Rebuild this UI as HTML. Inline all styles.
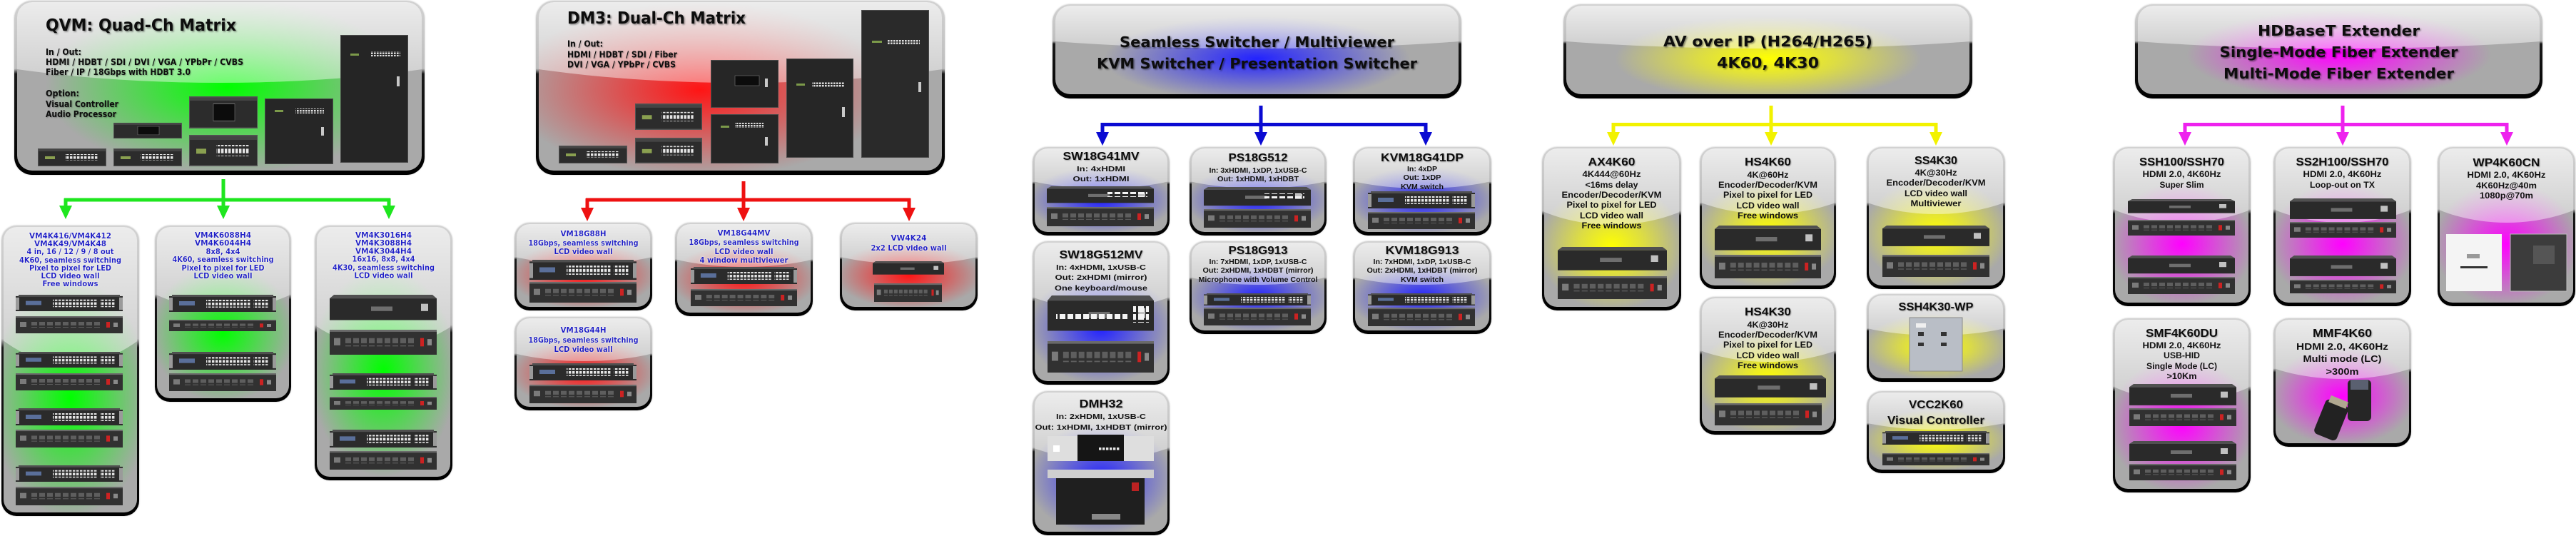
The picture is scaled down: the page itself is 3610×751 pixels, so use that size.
<!DOCTYPE html>
<html><head><meta charset="utf-8">
<style>
html,body{margin:0;padding:0;background:#fff}
body{width:3610px;height:751px;position:relative;overflow:hidden}
.b{position:absolute;border-radius:21px;background:linear-gradient(#d2d2d2,#bdbdbd 39%,#1a1a1a 42%,#000);box-shadow:0 0 2px rgba(0,0,0,.25)}
.b>div{position:absolute;left:3px;right:3px;top:2px;bottom:5px;border-radius:18px;overflow:hidden;background:#a9a9a9}
.L{border-radius:25px}
.L>div{left:4px;right:4px;top:2px;bottom:6px;border-radius:21px}
.b>div:before{content:"";position:absolute;left:0;top:0;right:0;bottom:0;background:radial-gradient(var(--w,55%) var(--h,40%) at var(--x,50%) var(--y,62%),var(--c) 0%,var(--d) 45%,rgba(169,169,169,0) 100%)}
.b>div:after{content:"";position:absolute;left:-50%;width:200%;top:-72%;height:120%;border-radius:50%;background:linear-gradient(rgba(255,255,255,.85),rgba(255,255,255,.78) 60%,rgba(255,255,255,.42))}
.g{--c:#00ff00;--d:rgba(0,255,0,.55)}
.r{--c:#ff1414;--d:rgba(255,20,20,.55)}
.u{--c:#2222ff;--d:rgba(34,34,255,.55)}
.y{--c:#ffff00;--d:rgba(255,255,0,.6)}
.m{--c:#ff00ff;--d:rgba(255,0,255,.55)}
svg{position:absolute;left:0;top:0}
</style></head>
<body>
<!-- top boxes -->
<div class="b L g" style="left:20px;top:1px;width:575px;height:244px;--x:52%;--y:50%;--w:45%;--h:52%"><div></div></div>
<div class="b L r" style="left:751px;top:1px;width:573px;height:244px;--x:40%;--y:52%;--w:48%;--h:52%"><div></div></div>
<div class="b L u" style="left:1475px;top:6px;width:573px;height:132px;--y:60%;--w:38%;--h:48%"><div></div></div>
<div class="b L y" style="left:2191px;top:6px;width:573px;height:132px;--y:60%;--w:38%;--h:48%"><div></div></div>
<div class="b L m" style="left:2992px;top:6px;width:571px;height:132px;--y:55%;--w:38%;--h:50%"><div></div></div>
<!-- green children -->
<div class="b g" style="left:2px;top:316px;width:193px;height:407px;--y:60%;--w:60%;--h:42%"><div></div></div>
<div class="b g" style="left:217px;top:316px;width:191px;height:247px"><div></div></div>
<div class="b g" style="left:441px;top:316px;width:193px;height:357px;--y:58%;--h:42%"><div></div></div>
<!-- red children -->
<div class="b r" style="left:721px;top:312px;width:193px;height:123px"><div></div></div>
<div class="b r" style="left:946px;top:312px;width:193px;height:131px"><div></div></div>
<div class="b r" style="left:1177px;top:312px;width:193px;height:123px"><div></div></div>
<div class="b r" style="left:721px;top:444px;width:193px;height:131px"><div></div></div>
<!-- blue children -->
<div class="b u" style="left:1447px;top:206px;width:192px;height:124px"><div></div></div>
<div class="b u" style="left:1667px;top:206px;width:192px;height:124px"><div></div></div>
<div class="b u" style="left:1896px;top:206px;width:194px;height:124px"><div></div></div>
<div class="b u" style="left:1447px;top:338px;width:192px;height:201px"><div></div></div>
<div class="b u" style="left:1667px;top:338px;width:192px;height:130px"><div></div></div>
<div class="b u" style="left:1896px;top:338px;width:194px;height:130px"><div></div></div>
<div class="b u" style="left:1447px;top:548px;width:192px;height:202px"><div></div></div>
<!-- yellow children -->
<div class="b y" style="left:2161px;top:206px;width:195px;height:229px"><div></div></div>
<div class="b y" style="left:2382px;top:206px;width:191px;height:199px"><div></div></div>
<div class="b y" style="left:2616px;top:206px;width:194px;height:199px"><div></div></div>
<div class="b y" style="left:2382px;top:416px;width:191px;height:193px"><div></div></div>
<div class="b y" style="left:2616px;top:412px;width:194px;height:123px"><div></div></div>
<div class="b y" style="left:2616px;top:548px;width:194px;height:115px"><div></div></div>
<!-- magenta children -->
<div class="b m" style="left:2961px;top:206px;width:193px;height:223px"><div></div></div>
<div class="b m" style="left:3186px;top:206px;width:193px;height:223px"><div></div></div>
<div class="b m" style="left:3416px;top:206px;width:193px;height:223px"><div></div></div>
<div class="b m" style="left:2961px;top:446px;width:193px;height:244px"><div></div></div>
<div class="b m" style="left:3186px;top:446px;width:193px;height:180px"><div></div></div>

<svg width="3610" height="751" viewBox="0 0 3610 751" xmlns="http://www.w3.org/2000/svg">
<defs>
<filter id="ts" x="-5%" y="-30%" width="115%" height="170%"><feDropShadow dx="1.5" dy="1.5" stdDeviation="1" flood-color="#000" flood-opacity=".45"/></filter>
<filter id="ts2" x="-5%" y="-30%" width="115%" height="170%"><feDropShadow dx="1" dy="1" stdDeviation=".8" flood-color="#000" flood-opacity=".3"/></filter>
<filter id="wg" x="-10%" y="-40%" width="120%" height="180%"><feDropShadow dx="0" dy="0" stdDeviation="1" flood-color="#fff" flood-opacity="1"/></filter>
<pattern id="bt" width="5" height="5.5" patternUnits="userSpaceOnUse"><rect width="3.4" height="3.6" fill="#e6e6e6"/></pattern>
<pattern id="pt" width="11" height="7" patternUnits="userSpaceOnUse"><rect y="1" width="8" height="5" fill="#5e5e5e"/></pattern>
<pattern id="bg" width="4" height="3.5" patternUnits="userSpaceOnUse"><rect width="2.6" height="2.4" fill="#e0e0e0"/></pattern>
<pattern id="wk" width="11" height="11" patternUnits="userSpaceOnUse"><rect width="8" height="8" fill="#f4f4f4"/></pattern>
<symbol id="fr" viewBox="0 0 150 24" preserveAspectRatio="none">
<rect x="0" y="2" width="150" height="22" fill="#2b2b2b"/>
<rect x="4" y="0" width="142" height="3" fill="#4f4f4f"/>
<rect x="0" y="4" width="5" height="18" fill="#9a9a9a"/>
<rect x="145" y="4" width="5" height="18" fill="#9a9a9a"/>
<rect x="14" y="9" width="22" height="6" fill="#5a6f9a"/>
<rect x="52" y="7" width="62" height="11" fill="url(#bt)"/>
<rect x="118" y="7" width="22" height="11" fill="url(#bt)"/>
</symbol>
<symbol id="rr" viewBox="0 0 150 24" preserveAspectRatio="none">
<rect width="150" height="24" fill="#313131"/>
<rect width="150" height="2" fill="#6a6a6a"/>
<rect x="6" y="8" width="9" height="7" fill="#7a7a7a"/>
<rect x="20" y="8" width="100" height="8" fill="url(#pt)"/>
<rect x="127" y="8" width="5" height="8" fill="#cc2222"/>
<rect x="137" y="9" width="6" height="6" fill="#8a8a8a"/>
</symbol>
<symbol id="bx" viewBox="0 0 150 30" preserveAspectRatio="none">
<rect y="4" width="150" height="24" fill="#2a2a2a"/>
<polygon points="6,0 144,0 150,4 0,4" fill="#505050"/>
<rect x="58" y="13" width="30" height="5" fill="#6e6e6e"/>
<rect x="128" y="10" width="10" height="8" fill="#c0c0c0"/>
</symbol>
<symbol id="ch" viewBox="0 0 96 25" preserveAspectRatio="none">
<rect x=".5" y=".5" width="95" height="24" fill="#2c2c2c" stroke="#555"/>
<rect x="1" y="1" width="94" height="3" fill="#444"/>
<rect x="10" y="11" width="14" height="4" fill="#8aa050"/>
<rect x="38" y="8" width="46" height="9" fill="url(#bt)"/>
</symbol>
<symbol id="cd" viewBox="0 0 96 30" preserveAspectRatio="none">
<rect x=".5" y=".5" width="95" height="29" fill="#2c2c2c" stroke="#555"/>
<rect x="1" y="1" width="94" height="3" fill="#444"/>
<rect x="34" y="7" width="30" height="16" fill="#0c0c0c" stroke="#777" stroke-width=".6"/>
</symbol>
</defs>

<!-- ===== connectors ===== -->
<g fill="none" stroke-width="5">
<path d="M313 251V280M90 280H547M92 278V292M545 278V292M313 278V292" stroke="#1ee61e"/>
<path d="M1042 254V280M821 280H1276M823 278V293M1274 278V293M1042 278V293" stroke="#ee1111"/>
<path d="M1767 148V175M1543 174.5H2000M1545 172V187M1998 172V187M1767 172V187" stroke="#0a0ad2"/>
<path d="M2482 148V175M2259 174.5H2715M2261 172V187M2713 172V187M2482 172V187" stroke="#f2f200"/>
<path d="M3283 148V175M3060 174.5H3515M3062 172V187M3513 172V187M3283 172V187" stroke="#ee22ee"/>
</g>
<g fill="#1ee61e"><polygon points="83,288 101,288 92,307"/><polygon points="304,288 322,288 313,307"/><polygon points="536,288 554,288 545,307"/></g>
<g fill="#ee1111"><polygon points="814,291 832,291 823,310"/><polygon points="1033,291 1051,291 1042,310"/><polygon points="1265,291 1283,291 1274,310"/></g>
<g fill="#0a0ad2"><polygon points="1536,185 1554,185 1545,204"/><polygon points="1758,185 1776,185 1767,204"/><polygon points="1989,185 2007,185 1998,204"/></g>
<g fill="#f2f200"><polygon points="2252,185 2270,185 2261,204"/><polygon points="2473,185 2491,185 2482,204"/><polygon points="2704,185 2722,185 2713,204"/></g>
<g fill="#ee22ee"><polygon points="3053,185 3071,185 3062,204"/><polygon points="3274,185 3292,185 3283,204"/><polygon points="3504,185 3522,185 3513,204"/></g>

<!-- ===== devices: QVM ===== -->
<use href="#ch" x="53" y="208" width="96" height="25"/>
<use href="#cd" x="159" y="172" width="96" height="22"/>
<use href="#ch" x="159" y="208" width="96" height="25"/>
<use href="#cd" x="265" y="135" width="96" height="45"/>
<use href="#ch" x="265" y="189" width="96" height="44"/>
<rect x="371.5" y="138.5" width="95" height="91" fill="#262626" stroke="#4a4a4a"/>
<rect x="385" y="154" width="12" height="3" fill="#7c9a4a"/><rect x="414" y="152" width="40" height="7" fill="url(#bg)"/><rect x="450" y="178" width="4" height="12" fill="#c8c8c8"/>
<rect x="477.5" y="49.5" width="94" height="178" fill="#252525" stroke="#4a4a4a"/>
<rect x="491" y="75" width="12" height="3" fill="#7c9a4a"/><rect x="519" y="72" width="42" height="7" fill="url(#bg)"/><rect x="556" y="107" width="4" height="14" fill="#c8c8c8"/>
<!-- DM3 -->
<use href="#ch" x="783" y="204" width="96" height="25"/>
<use href="#ch" x="890" y="145" width="94" height="37"/>
<use href="#ch" x="890" y="193" width="94" height="36"/>
<rect x="996.5" y="84.5" width="94" height="66" fill="#262626" stroke="#4a4a4a"/>
<rect x="1030" y="106" width="34" height="14" fill="#0c0c0c" stroke="#777" stroke-width=".6"/><rect x="1072" y="110" width="4" height="12" fill="#c8c8c8"/>
<rect x="996.5" y="160.5" width="94" height="68" fill="#262626" stroke="#4a4a4a"/>
<rect x="1010" y="176" width="12" height="3" fill="#7c9a4a"/><rect x="1030" y="172" width="40" height="7" fill="url(#bg)"/><rect x="1072" y="192" width="4" height="12" fill="#c8c8c8"/>
<rect x="1102.5" y="82.5" width="93" height="138" fill="#262626" stroke="#4a4a4a"/>
<rect x="1116" y="117" width="12" height="3" fill="#7c9a4a"/><rect x="1138" y="115" width="45" height="7" fill="url(#bg)"/><rect x="1180" y="150" width="4" height="14" fill="#c8c8c8"/>
<rect x="1207.5" y="14.5" width="94" height="206" fill="#2a2a2a" stroke="#4a4a4a"/>
<rect x="1222" y="57" width="14" height="3" fill="#7c9a4a"/><rect x="1244" y="55" width="45" height="7" fill="url(#bg)"/><rect x="1287" y="115" width="4" height="14" fill="#c8c8c8"/>
<!-- green children -->
<use href="#fr" x="22" y="413" width="150" height="23"/><use href="#rr" x="22" y="443" width="150" height="24"/>
<use href="#fr" x="22" y="493" width="150" height="22"/><use href="#rr" x="22" y="523" width="150" height="24"/>
<use href="#fr" x="22" y="572" width="150" height="24"/><use href="#rr" x="22" y="602" width="150" height="25"/>
<use href="#fr" x="22" y="652" width="150" height="23"/><use href="#rr" x="22" y="682" width="150" height="26"/>
<use href="#fr" x="237" y="413" width="150" height="24"/><use href="#rr" x="237" y="448" width="150" height="16"/>
<use href="#fr" x="237" y="493" width="150" height="25"/><use href="#rr" x="237" y="523" width="150" height="25"/>
<use href="#bx" x="462" y="413" width="150" height="38"/><use href="#rr" x="462" y="462" width="150" height="35"/>
<use href="#fr" x="462" y="523" width="150" height="23"/><use href="#rr" x="462" y="556" width="150" height="18"/>
<use href="#fr" x="462" y="602" width="150" height="25"/><use href="#rr" x="462" y="632" width="150" height="26"/>
<!-- red children -->
<use href="#fr" x="742" y="364" width="150" height="28"/><use href="#rr" x="742" y="395" width="150" height="29"/>
<use href="#fr" x="968" y="374" width="149" height="24"/><use href="#rr" x="968" y="405" width="149" height="24"/>
<use href="#bx" x="1223" y="366" width="100" height="20"/><use href="#rr" x="1225" y="397" width="95" height="26"/>
<use href="#fr" x="742" y="509" width="150" height="24"/><use href="#rr" x="742" y="539" width="150" height="26"/>
<!-- blue children -->
<use href="#bx" x="1467" y="261" width="150" height="25"/><use href="#rr" x="1467" y="290" width="150" height="27"/>
<rect x="1552" y="269" width="56" height="7" fill="url(#wk)"/>
<use href="#bx" x="1687" y="262" width="150" height="28"/><use href="#rr" x="1687" y="293" width="150" height="26"/>
<rect x="1772" y="271" width="56" height="7" fill="url(#wk)"/>
<use href="#fr" x="1917" y="268" width="150" height="24"/><use href="#rr" x="1917" y="297" width="150" height="24"/>
<use href="#bx" x="1468" y="414" width="149" height="53"/><use href="#rr" x="1468" y="478" width="149" height="44"/>
<rect x="1480" y="438" width="100" height="9" fill="url(#wk)"/><rect x="1588" y="428" width="22" height="24" fill="url(#wk)"/>
<use href="#fr" x="1687" y="411" width="150" height="17"/><use href="#rr" x="1687" y="431" width="150" height="25"/>
<use href="#fr" x="1917" y="411" width="150" height="17"/><use href="#rr" x="1917" y="431" width="150" height="26"/>
<rect x="1468" y="611" width="149" height="35" fill="#dedede"/><rect x="1510" y="609" width="65" height="37" fill="#151515"/>
<rect x="1476" y="624" width="9" height="9" fill="#fff"/><rect x="1540" y="627" width="30" height="5" fill="url(#bt)"/>
<rect x="1468" y="658" width="149" height="12" fill="#cfcfcf"/>
<rect x="1480" y="670" width="124" height="65" fill="#1f1f1f"/>
<rect x="1586" y="676" width="10" height="12" fill="#b22"/><rect x="1530" y="720" width="40" height="8" fill="#888"/>
<!-- yellow children -->
<use href="#bx" x="2183" y="346" width="153" height="35"/><use href="#rr" x="2183" y="387" width="153" height="32"/>
<use href="#bx" x="2403" y="316" width="149" height="37"/><use href="#rr" x="2403" y="357" width="149" height="33"/>
<use href="#bx" x="2638" y="316" width="150" height="31"/><use href="#rr" x="2638" y="357" width="150" height="31"/>
<use href="#bx" x="2403" y="526" width="156" height="33"/><use href="#rr" x="2403" y="565" width="150" height="31"/>
<rect x="2676" y="445" width="74" height="75" fill="#b9bec6" stroke="#8a8a8a"/>
<rect x="2685" y="453" width="14" height="6" fill="#f0f0f0"/><rect x="2688" y="465" width="8" height="6" fill="#333"/><rect x="2720" y="465" width="8" height="6" fill="#333"/>
<rect x="2688" y="480" width="8" height="5" fill="#333"/><rect x="2720" y="480" width="8" height="5" fill="#333"/>
<use href="#fr" x="2638" y="604" width="150" height="19"/><use href="#rr" x="2638" y="635" width="150" height="17"/>
<!-- magenta children -->
<use href="#bx" x="2982" y="279" width="150" height="21"/><use href="#rr" x="2982" y="308" width="150" height="22"/>
<use href="#bx" x="2982" y="358" width="150" height="27"/><use href="#rr" x="2982" y="388" width="150" height="24"/>
<use href="#bx" x="3209" y="278" width="149" height="31"/><use href="#rr" x="3209" y="311" width="149" height="22"/>
<use href="#bx" x="3209" y="358" width="149" height="31"/><use href="#rr" x="3209" y="392" width="149" height="19"/>
<rect x="3428" y="328" width="78" height="80" fill="#f4f4f4"/>
<rect x="3457" y="356" width="18" height="6" fill="#999"/><rect x="3448" y="373" width="38" height="3" fill="#333"/>
<rect x="3518" y="328" width="79" height="80" fill="#3c3c3c" stroke="#bbb"/>
<rect x="3550" y="344" width="30" height="26" fill="#555"/>
<use href="#bx" x="2984" y="538" width="150" height="32"/><use href="#rr" x="2984" y="572" width="150" height="25"/>
<use href="#bx" x="2984" y="618" width="150" height="30"/><use href="#rr" x="2984" y="650" width="150" height="23"/>
<rect x="3290" y="532" width="33" height="58" rx="6" fill="#262626"/><rect x="3294" y="532" width="25" height="14" fill="#5a6070"/>
<g transform="rotate(22 3266 588)"><rect x="3250" y="562" width="34" height="52" rx="6" fill="#222"/><rect x="3254" y="556" width="26" height="10" fill="#b0a890"/></g>

<!-- ===== top box text ===== -->
<g font-family="'DejaVu Sans',sans-serif" font-weight="bold" fill="#111" filter="url(#ts)">
<text x="64" y="43" font-size="23" textLength="267" lengthAdjust="spacingAndGlyphs">QVM: Quad-Ch Matrix</text>
<text x="795" y="33" font-size="23" textLength="250" lengthAdjust="spacingAndGlyphs">DM3: Dual-Ch Matrix</text>
</g>
<g font-family="'DejaVu Sans',sans-serif" font-weight="bold" fill="#111" font-size="12.5" filter="url(#ts2)">
<text x="64" y="77" textLength="50" lengthAdjust="spacingAndGlyphs">In / Out:</text>
<text x="64" y="91" textLength="277" lengthAdjust="spacingAndGlyphs">HDMI / HDBT / SDI / DVI / VGA / YPbPr / CVBS</text>
<text x="64" y="105" textLength="203" lengthAdjust="spacingAndGlyphs">Fiber / IP / 18Gbps with HDBT 3.0</text>
<text x="64" y="135" textLength="47" lengthAdjust="spacingAndGlyphs">Option:</text>
<text x="64" y="150" textLength="102" lengthAdjust="spacingAndGlyphs">Visual Controller</text>
<text x="64" y="164" textLength="99" lengthAdjust="spacingAndGlyphs">Audio Processor</text>
<text x="795" y="65.5" textLength="50" lengthAdjust="spacingAndGlyphs">In / Out:</text>
<text x="795" y="80.5" textLength="154" lengthAdjust="spacingAndGlyphs">HDMI / HDBT / SDI / Fiber</text>
<text x="795" y="94.5" textLength="152" lengthAdjust="spacingAndGlyphs">DVI / VGA / YPbPr / CVBS</text>
</g>
<g font-family="'DejaVu Sans',sans-serif" font-weight="bold" fill="#111" font-size="20" text-anchor="middle" filter="url(#ts)">
<text x="1761.5" y="66" textLength="385" lengthAdjust="spacingAndGlyphs">Seamless Switcher / Multiviewer</text>
<text x="1761.5" y="96" textLength="449" lengthAdjust="spacingAndGlyphs">KVM Switcher / Presentation Switcher</text>
<text x="2477.5" y="65" textLength="293" lengthAdjust="spacingAndGlyphs">AV over IP (H264/H265)</text>
<text x="2477.5" y="95" textLength="143" lengthAdjust="spacingAndGlyphs">4K60, 4K30</text>
<text x="3277.5" y="50" textLength="227" lengthAdjust="spacingAndGlyphs">HDBaseT Extender</text>
<text x="3277.5" y="80" textLength="334" lengthAdjust="spacingAndGlyphs">Single-Mode Fiber Extender</text>
<text x="3277.5" y="110" textLength="323" lengthAdjust="spacingAndGlyphs">Multi-Mode Fiber Extender</text>
</g>

<!-- ===== green/red child text (blue) ===== -->
<g font-family="'DejaVu Sans',sans-serif" font-weight="bold" fill="#1c1cc8" font-size="10.5" text-anchor="middle" filter="url(#wg)">
<text x="98.5" y="334" textLength="115" lengthAdjust="spacingAndGlyphs">VM4K416/VM4K412</text>
<text x="98.5" y="345" textLength="101" lengthAdjust="spacingAndGlyphs">VM4K49/VM4K48</text>
<text x="98.5" y="356" textLength="122" lengthAdjust="spacingAndGlyphs">4 in, 16 / 12 / 9 / 8 out</text>
<text x="98.5" y="368" textLength="143" lengthAdjust="spacingAndGlyphs">4K60, seamless switching</text>
<text x="98.5" y="379" textLength="115" lengthAdjust="spacingAndGlyphs">Pixel to pixel for LED</text>
<text x="98.5" y="390" textLength="82" lengthAdjust="spacingAndGlyphs">LCD video wall</text>
<text x="98.5" y="401" textLength="78" lengthAdjust="spacingAndGlyphs">Free windows</text>
<text x="312.5" y="333" textLength="79" lengthAdjust="spacingAndGlyphs">VM4K6088H4</text>
<text x="312.5" y="344" textLength="79" lengthAdjust="spacingAndGlyphs">VM4K6044H4</text>
<text x="312.5" y="356" textLength="48" lengthAdjust="spacingAndGlyphs">8x8, 4x4</text>
<text x="312.5" y="367" textLength="142" lengthAdjust="spacingAndGlyphs">4K60, seamless switching</text>
<text x="312.5" y="379" textLength="116" lengthAdjust="spacingAndGlyphs">Pixel to pixel for LED</text>
<text x="312.5" y="390" textLength="82" lengthAdjust="spacingAndGlyphs">LCD video wall</text>
<text x="537.5" y="333" textLength="79" lengthAdjust="spacingAndGlyphs">VM4K3016H4</text>
<text x="537.5" y="344" textLength="79" lengthAdjust="spacingAndGlyphs">VM4K3088H4</text>
<text x="537.5" y="355.5" textLength="79" lengthAdjust="spacingAndGlyphs">VM4K3044H4</text>
<text x="537.5" y="366.5" textLength="88" lengthAdjust="spacingAndGlyphs">16x16, 8x8, 4x4</text>
<text x="537.5" y="378.5" textLength="143" lengthAdjust="spacingAndGlyphs">4K30, seamless switching</text>
<text x="537.5" y="389.5" textLength="82" lengthAdjust="spacingAndGlyphs">LCD video wall</text>
</g>
<g font-family="'DejaVu Sans',sans-serif" font-weight="bold" fill="#1c1cc8" font-size="11" text-anchor="middle" filter="url(#wg)">
<text x="817.5" y="331" textLength="64" lengthAdjust="spacingAndGlyphs">VM18G88H</text>
<text x="817.5" y="344" textLength="154" lengthAdjust="spacingAndGlyphs">18Gbps, seamless switching</text>
<text x="817.5" y="356" textLength="82" lengthAdjust="spacingAndGlyphs">LCD video wall</text>
<text x="1042.5" y="330" textLength="74" lengthAdjust="spacingAndGlyphs">VM18G44MV</text>
<text x="1042.5" y="343" textLength="154" lengthAdjust="spacingAndGlyphs">18Gbps, seamless switching</text>
<text x="1042.5" y="356" textLength="82" lengthAdjust="spacingAndGlyphs">LCD video wall</text>
<text x="1042.5" y="368" textLength="124" lengthAdjust="spacingAndGlyphs">4 window multiviewer</text>
<text x="1273.5" y="337" textLength="50" lengthAdjust="spacingAndGlyphs">VW4K24</text>
<text x="1273.5" y="351" textLength="106" lengthAdjust="spacingAndGlyphs">2x2 LCD video wall</text>
<text x="817.5" y="466" textLength="64" lengthAdjust="spacingAndGlyphs">VM18G44H</text>
<text x="817.5" y="480" textLength="154" lengthAdjust="spacingAndGlyphs">18Gbps, seamless switching</text>
<text x="817.5" y="493" textLength="82" lengthAdjust="spacingAndGlyphs">LCD video wall</text>
</g>

<!-- ===== child titles (black) ===== -->
<g font-family="'Liberation Sans',sans-serif" font-weight="bold" fill="#111" font-size="16" text-anchor="middle" filter="url(#ts2)">
<text x="1543" y="224" textLength="107" lengthAdjust="spacingAndGlyphs">SW18G41MV</text>
<text x="1763" y="226" textLength="83" lengthAdjust="spacingAndGlyphs">PS18G512</text>
<text x="1993" y="226" textLength="116" lengthAdjust="spacingAndGlyphs">KVM18G41DP</text>
<text x="1543" y="362" textLength="117" lengthAdjust="spacingAndGlyphs">SW18G512MV</text>
<text x="1763" y="356" textLength="83" lengthAdjust="spacingAndGlyphs">PS18G913</text>
<text x="1993" y="356" textLength="103" lengthAdjust="spacingAndGlyphs">KVM18G913</text>
<text x="1543" y="571" textLength="61" lengthAdjust="spacingAndGlyphs">DMH32</text>
<text x="2258.5" y="232" textLength="66" lengthAdjust="spacingAndGlyphs">AX4K60</text>
<text x="2477.5" y="232" textLength="65" lengthAdjust="spacingAndGlyphs">HS4K60</text>
<text x="2713" y="230" textLength="60" lengthAdjust="spacingAndGlyphs">SS4K30</text>
<text x="2477.5" y="442" textLength="65" lengthAdjust="spacingAndGlyphs">HS4K30</text>
<text x="2713" y="435" textLength="105" lengthAdjust="spacingAndGlyphs">SSH4K30-WP</text>
<text x="2713" y="572" textLength="76" lengthAdjust="spacingAndGlyphs">VCC2K60</text>
<text x="2713" y="594" textLength="136" lengthAdjust="spacingAndGlyphs">Visual Controller</text>
<text x="3057.5" y="232" textLength="119" lengthAdjust="spacingAndGlyphs">SSH100/SSH70</text>
<text x="3282.5" y="232" textLength="130" lengthAdjust="spacingAndGlyphs">SS2H100/SSH70</text>
<text x="3512.5" y="233" textLength="94" lengthAdjust="spacingAndGlyphs">WP4K60CN</text>
<text x="3057.5" y="472" textLength="101" lengthAdjust="spacingAndGlyphs">SMF4K60DU</text>
<text x="3282.5" y="472" textLength="83" lengthAdjust="spacingAndGlyphs">MMF4K60</text>
</g>

<!-- ===== child lines (black) ===== -->
<g font-family="'Liberation Sans',sans-serif" font-weight="bold" fill="#111" font-size="10.5" text-anchor="middle">
<text x="1543" y="240" textLength="68" lengthAdjust="spacingAndGlyphs">In: 4xHDMI</text>
<text x="1543" y="254" textLength="79" lengthAdjust="spacingAndGlyphs">Out: 1xHDMI</text>
<text x="1763" y="242" textLength="137" lengthAdjust="spacingAndGlyphs">In: 3xHDMI, 1xDP, 1xUSB-C</text>
<text x="1763" y="254" textLength="114" lengthAdjust="spacingAndGlyphs">Out: 1xHDMI, 1xHDBT</text>
<text x="1993" y="240" textLength="42" lengthAdjust="spacingAndGlyphs">In: 4xDP</text>
<text x="1993" y="252" textLength="53" lengthAdjust="spacingAndGlyphs">Out: 1xDP</text>
<text x="1993" y="265" textLength="60" lengthAdjust="spacingAndGlyphs">KVM switch</text>
<text x="1543" y="378" textLength="126" lengthAdjust="spacingAndGlyphs">In: 4xHDMI, 1xUSB-C</text>
<text x="1543" y="392" textLength="129" lengthAdjust="spacingAndGlyphs">Out: 2xHDMI (mirror)</text>
<text x="1543" y="407" textLength="130" lengthAdjust="spacingAndGlyphs">One keyboard/mouse</text>
<text x="1763" y="370" textLength="137" lengthAdjust="spacingAndGlyphs">In: 7xHDMI, 1xDP, 1xUSB-C</text>
<text x="1763" y="382" textLength="155" lengthAdjust="spacingAndGlyphs">Out: 2xHDMI, 1xHDBT (mirror)</text>
<text x="1763" y="395" textLength="167" lengthAdjust="spacingAndGlyphs">Microphone with Volume Control</text>
<text x="1993" y="370" textLength="137" lengthAdjust="spacingAndGlyphs">In: 7xHDMI, 1xDP, 1xUSB-C</text>
<text x="1993" y="382" textLength="155" lengthAdjust="spacingAndGlyphs">Out: 2xHDMI, 1xHDBT (mirror)</text>
<text x="1993" y="395" textLength="60" lengthAdjust="spacingAndGlyphs">KVM switch</text>
<text x="1543" y="587" textLength="126" lengthAdjust="spacingAndGlyphs">In: 2xHDMI, 1xUSB-C</text>
<text x="1543" y="602" textLength="185" lengthAdjust="spacingAndGlyphs">Out: 1xHDMI, 1xHDBT (mirror)</text>
</g>
<g font-family="'Liberation Sans',sans-serif" font-weight="bold" fill="#111" font-size="11.5" text-anchor="middle">
<text x="2258.5" y="248" textLength="82" lengthAdjust="spacingAndGlyphs">4K444@60Hz</text>
<text x="2258.5" y="263" textLength="74" lengthAdjust="spacingAndGlyphs">&lt;16ms delay</text>
<text x="2258.5" y="277" textLength="140" lengthAdjust="spacingAndGlyphs">Encoder/Decoder/KVM</text>
<text x="2258.5" y="291" textLength="126" lengthAdjust="spacingAndGlyphs">Pixel to pixel for LED</text>
<text x="2258.5" y="306" textLength="89" lengthAdjust="spacingAndGlyphs">LCD video wall</text>
<text x="2258.5" y="320" textLength="84" lengthAdjust="spacingAndGlyphs">Free windows</text>
<text x="2477.5" y="249" textLength="58" lengthAdjust="spacingAndGlyphs">4K@60Hz</text>
<text x="2477.5" y="263" textLength="139" lengthAdjust="spacingAndGlyphs">Encoder/Decoder/KVM</text>
<text x="2477.5" y="277" textLength="125" lengthAdjust="spacingAndGlyphs">Pixel to pixel for LED</text>
<text x="2477.5" y="292" textLength="88" lengthAdjust="spacingAndGlyphs">LCD video wall</text>
<text x="2477.5" y="306" textLength="85" lengthAdjust="spacingAndGlyphs">Free windows</text>
<text x="2713" y="246" textLength="59" lengthAdjust="spacingAndGlyphs">4K@30Hz</text>
<text x="2713" y="260" textLength="139" lengthAdjust="spacingAndGlyphs">Encoder/Decoder/KVM</text>
<text x="2713" y="275" textLength="88" lengthAdjust="spacingAndGlyphs">LCD video wall</text>
<text x="2713" y="289" textLength="71" lengthAdjust="spacingAndGlyphs">Multiviewer</text>
<text x="2477.5" y="459" textLength="58" lengthAdjust="spacingAndGlyphs">4K@30Hz</text>
<text x="2477.5" y="473" textLength="139" lengthAdjust="spacingAndGlyphs">Encoder/Decoder/KVM</text>
<text x="2477.5" y="487" textLength="125" lengthAdjust="spacingAndGlyphs">Pixel to pixel for LED</text>
<text x="2477.5" y="502" textLength="88" lengthAdjust="spacingAndGlyphs">LCD video wall</text>
<text x="2477.5" y="516" textLength="85" lengthAdjust="spacingAndGlyphs">Free windows</text>
<text x="3057.5" y="248" textLength="110" lengthAdjust="spacingAndGlyphs">HDMI 2.0, 4K60Hz</text>
<text x="3057.5" y="263" textLength="62" lengthAdjust="spacingAndGlyphs">Super Slim</text>
<text x="3282.5" y="248" textLength="110" lengthAdjust="spacingAndGlyphs">HDMI 2.0, 4K60Hz</text>
<text x="3282.5" y="263" textLength="91" lengthAdjust="spacingAndGlyphs">Loop-out on TX</text>
<text x="3512.5" y="249" textLength="110" lengthAdjust="spacingAndGlyphs">HDMI 2.0, 4K60Hz</text>
<text x="3512.5" y="264" textLength="85" lengthAdjust="spacingAndGlyphs">4K60Hz@40m</text>
<text x="3512.5" y="278" textLength="75" lengthAdjust="spacingAndGlyphs">1080p@70m</text>
<text x="3057.5" y="488" textLength="110" lengthAdjust="spacingAndGlyphs">HDMI 2.0, 4K60Hz</text>
<text x="3057.5" y="502" textLength="51" lengthAdjust="spacingAndGlyphs">USB-HID</text>
<text x="3057.5" y="517" textLength="99" lengthAdjust="spacingAndGlyphs">Single Mode (LC)</text>
<text x="3057.5" y="531" textLength="42" lengthAdjust="spacingAndGlyphs">&gt;10Km</text>
</g>
<g font-family="'Liberation Sans',sans-serif" font-weight="bold" fill="#111" font-size="13" text-anchor="middle">
<text x="3282.5" y="490" textLength="129" lengthAdjust="spacingAndGlyphs">HDMI 2.0, 4K60Hz</text>
<text x="3282.5" y="507" textLength="110" lengthAdjust="spacingAndGlyphs">Multi mode (LC)</text>
<text x="3282.5" y="525" textLength="46" lengthAdjust="spacingAndGlyphs">&gt;300m</text>
</g>
</svg>
</body></html>
